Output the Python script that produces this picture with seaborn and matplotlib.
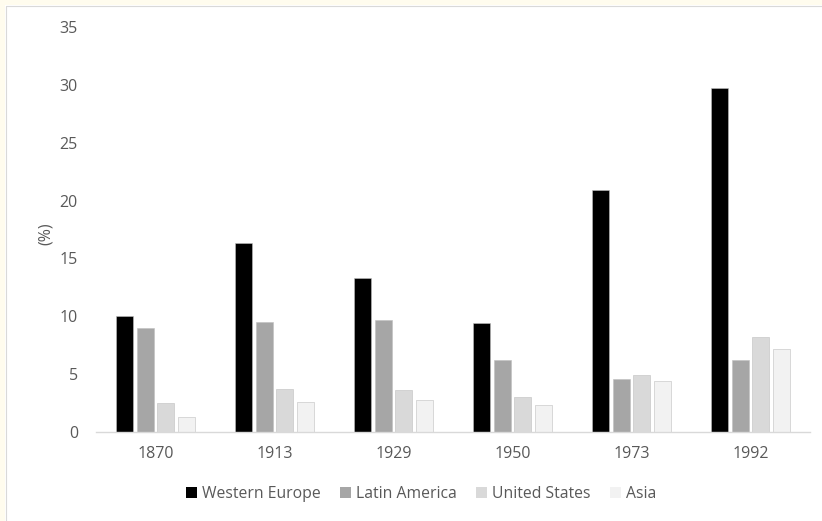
import matplotlib
matplotlib.use("Agg")
import matplotlib.pyplot as plt
import matplotlib.patches as mpatches
import matplotlib.lines as mlines
import seaborn as sns
import pandas as pd

years = ["1870", "1913", "1929", "1950", "1973", "1992"]
western_europe = [10.0, 16.3, 13.3, 9.4, 20.9, 29.7]
latin_america = [9.0, 9.5, 9.7, 6.2, 4.6, 6.2]
united_states = [2.5, 3.7, 3.6, 3.0, 4.9, 8.2]
asia = [1.3, 2.6, 2.8, 2.3, 4.4, 7.2]

regions = ["Western Europe", "Latin America", "United States", "Asia"]
colors = ["#000000", "#A6A6A6", "#D9D9D9", "#F2F2F2"]
y_ticks = [0, 5, 10, 15, 20, 25, 30, 35]

series = [western_europe, latin_america, united_states, asia]
df = pd.DataFrame(
    [(y, r, v) for r, vals in zip(regions, series) for y, v in zip(years, vals)],
    columns=["year", "region", "value"],
)

sns.set_theme(style="white")
plt.rcParams["font.family"] = ["Open Sans", "DejaVu Sans"]
text_color = "#595959"

fig = plt.figure(figsize=(8.22, 5.21), dpi=100)
fig.patch.set_facecolor("white")
ax = fig.add_axes([96 / 822, 1 - 432 / 521, 714 / 822, 405 / 521])

sns.barplot(
    data=df, x="year", y="value", hue="region", order=years, hue_order=regions,
    palette=colors, width=0.69, gap=0.17, saturation=1, legend=False, ax=ax,
)
for p in ax.patches:
    p.set_edgecolor("#BFBFBF")
    p.set_linewidth(0.4)

ax.set_ylim(0, 35)
ax.set_yticks(y_ticks)
ax.set_xlim(-0.5, len(years) - 0.5)
ax.set_xlabel("")
ax.set_ylabel("(%)", color=text_color, fontsize=11.5)
ax.yaxis.set_label_coords(-42 / 714, 0.49)
for s in ["top", "right", "left"]:
    ax.spines[s].set_visible(False)
ax.spines["bottom"].set_color("#D9D9D9")
ax.spines["bottom"].set_linewidth(1.0)
ax.tick_params(axis="x", length=0, pad=10, labelsize=11.5, labelcolor=text_color)
ax.tick_params(axis="y", length=0, pad=13, labelsize=11.5, labelcolor=text_color)
ax.grid(False)

handles = [mpatches.Patch(facecolor=c, edgecolor="none") for c in colors]
fig.legend(
    handles, regions, loc="center", bbox_to_anchor=(421 / 822, 1 - 494 / 521),
    ncol=4, frameon=False, fontsize=11.3, labelcolor=text_color,
    handlelength=0.7, handleheight=0.7, handletextpad=0.3, columnspacing=1.25,
)

# cream margin along the top and left edges with a thin frame line
fig.add_artist(mpatches.Rectangle((0, 0), 5 / 822, 1, transform=fig.transFigure,
                                  facecolor="#FFFCEE", edgecolor="none", zorder=0))
fig.add_artist(mpatches.Rectangle((0, 1 - 5 / 521), 1, 5 / 521, transform=fig.transFigure,
                                  facecolor="#FFFCEE", edgecolor="none", zorder=0))
fig.add_artist(mlines.Line2D([5.5 / 822, 5.5 / 822], [0, 1 - 5.5 / 521],
                             transform=fig.transFigure, color="#D9D9D9", lw=0.8))
fig.add_artist(mlines.Line2D([5.5 / 822, 1], [1 - 5.5 / 521, 1 - 5.5 / 521],
                             transform=fig.transFigure, color="#D9D9D9", lw=0.8))

fig.savefig("out.png", dpi=100)
